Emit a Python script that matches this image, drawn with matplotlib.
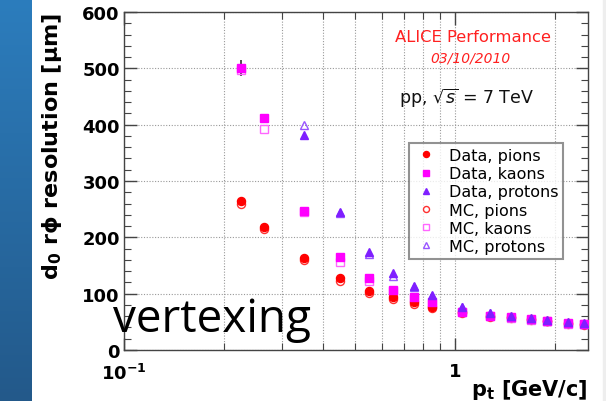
import numpy as np
import matplotlib
matplotlib.use('Agg')
import matplotlib.pyplot as plt
from matplotlib.ticker import FixedLocator, MultipleLocator, NullFormatter

plt.rcParams['font.family'] = 'DejaVu Sans'
plt.rcParams['mathtext.fontset'] = 'dejavusans'

# pt bins [GeV/c]
pt = [0.225, 0.265, 0.35, 0.45, 0.55, 0.65, 0.75, 0.85, 1.05, 1.275, 1.475, 1.7, 1.9, 2.2, 2.45]
pt_p = pt[2:]

# d0 r-phi resolution [um]
data_pions = [264, 219, 163, 128, 105, 94, 85, 77, 68, 60, 58, 55, 52, 48, 46]
mc_pions = [259, 215, 160, 123, 101, 90, 82, 74, 66, 59, 57, 54, 51, 47, 45]
data_kaons = [500, 412, 247, 165, 128, 107, 94, 85, 68, 61, 58, 55, 52, 48, 47]
mc_kaons = [497, 392, 245, 156, 123, 104, 91, 82, 67, 60, 57, 54, 51, 47, 46]
data_protons = [382, 245, 174, 136, 114, 98, 77, 66, 60, 56, 53, 49, 48]
mc_protons = [400, 243, 171, 132, 111, 96, 76, 65, 59, 55, 52, 48, 47]
err_kaons = [14, 5, 4, 3, 3, 2, 2, 2, 2, 2, 2, 2, 2, 2, 2]

W, H = 606, 402
fig = plt.figure(figsize=(W / 100, H / 100), dpi=100)

# slide strip on the left
strip = fig.add_axes([0, 0, 32 / W, 1])
top = np.array([0x2c, 0x7d, 0xbd]) / 255
bot = np.array([0x23, 0x59, 0x8a]) / 255
t = np.linspace(0, 1, 200)[:, None]
grad = (top * (1 - t) + bot * t)[:, None, :]
strip.imshow(grad, aspect='auto', extent=[0, 1, 0, 1])
strip.axis('off')

ax = fig.add_axes([124 / W, 1 - 351 / H, 464 / W, 338 / H])
ax.set_xscale('log')
ax.set_xlim(0.1, 2.52)
ax.set_ylim(0, 600)

ax.errorbar(pt[:1], data_kaons[:1], yerr=err_kaons[:1], fmt='none', ecolor='#333333', elinewidth=1.2, zorder=2)

ms = 5.8
ax.plot(pt, mc_pions, ls='none', marker='o', ms=ms, mfc='none', mec='#ff3030', mew=1.0, label='MC, pions', zorder=3)
ax.plot(pt, mc_kaons, ls='none', marker='s', ms=ms - 0.5, mfc='none', mec='#ff66ff', mew=1.0, label='MC, kaons', zorder=3)
ax.plot(pt_p, mc_protons, ls='none', marker='^', ms=ms, mfc='none', mec='#9955ff', mew=1.0, label='MC, protons', zorder=3)
ax.plot(pt, data_pions, ls='none', marker='o', ms=ms, color='#ff0000', mec='#ff0000', label='Data, pions', zorder=4)
ax.plot(pt, data_kaons, ls='none', marker='s', ms=ms - 0.5, color='#ff00ff', mec='#ff00ff', label='Data, kaons', zorder=4)
ax.plot(pt_p, data_protons, ls='none', marker='^', ms=ms, color='#7f1fff', mec='#7f1fff', label='Data, protons', zorder=4)

# ticks, ROOT style
ax.xaxis.set_major_locator(FixedLocator([0.1, 1]))
ax.xaxis.set_minor_locator(FixedLocator([0.2, 0.3, 0.4, 0.5, 0.6, 0.7, 0.8, 0.9, 2]))
ax.xaxis.set_minor_formatter(NullFormatter())
ax.set_xticklabels([r'$\mathbf{10^{-1}}$', '1'], fontsize=13, fontweight='bold')
ax.yaxis.set_minor_locator(MultipleLocator(20))
ax.set_yticks([0, 100, 200, 300, 400, 500, 600])
ax.set_yticklabels(['0', '100', '200', '300', '400', '500', '600'], fontsize=13, fontweight='bold')
ax.tick_params(which='both', direction='in', top=True, right=True, color='#444444')
ax.tick_params(which='major', length=9, width=1.0)
ax.tick_params(which='minor', length=5, width=0.8)
ax.tick_params(axis='y', which='major', pad=3)
ax.tick_params(axis='x', which='major', pad=9)
for s in ax.spines.values():
    s.set_color('#444444')
    s.set_linewidth(1.0)

ax.grid(True, which='both', axis='x', ls=(0, (1, 1.5)), color='#999999', lw=0.8)
ax.grid(True, which='major', axis='y', ls=(0, (1, 1.5)), color='#999999', lw=0.8)
ax.set_axisbelow(True)

order = ['Data, pions', 'Data, kaons', 'Data, protons', 'MC, pions', 'MC, kaons', 'MC, protons']
h, l = ax.get_legend_handles_labels()
hd = dict(zip(l, h))
leg = ax.legend([hd[k] for k in order], order, loc='upper left', bbox_to_anchor=(0.614, 0.612),
                borderaxespad=0, fontsize=11.5, frameon=True, fancybox=False, handlelength=1.5,
                handletextpad=0.7, labelspacing=0.2, borderpad=0.3, markerscale=0.75)
leg.get_frame().set_edgecolor('#777777')
leg.get_frame().set_linewidth(1.5)

fig.text(473 / W, 1 - 37 / H, 'ALICE Performance', color='#ff2020', fontsize=11.8, ha='center', va='center')
fig.text(470 / W, 1 - 58 / H, '03/10/2010', color='#ff2020', fontsize=10, style='italic', ha='center', va='center')
fig.text(466 / W, 1 - 98 / H, r'pp, $\sqrt{s}$ = 7 TeV', color='#111111', fontsize=12.5, ha='center', va='center')

fig.text(52 / W, 1 - 13 / H, r'$\mathbf{d_0}$ r$\mathbf{\phi}$ resolution [$\mathbf{\mu}$m]', rotation=90,
         fontsize=16, fontweight='bold', ha='center', va='top')
fig.text(588 / W, 1 - 390 / H, r'$\mathbf{p_t}$ [GeV/c]', fontsize=15, fontweight='bold', ha='right', va='center')

fig.text(113 / W, 1 - 332 / H, 'vertexing', family='Open Sans', fontsize=33, color='black', ha='left', va='baseline')

fig.patches.append(plt.Rectangle((603 / W, 0), 3 / W, 1, transform=fig.transFigure, color='#eeeeee', zorder=0))

fig.savefig('out.png', dpi=100)
